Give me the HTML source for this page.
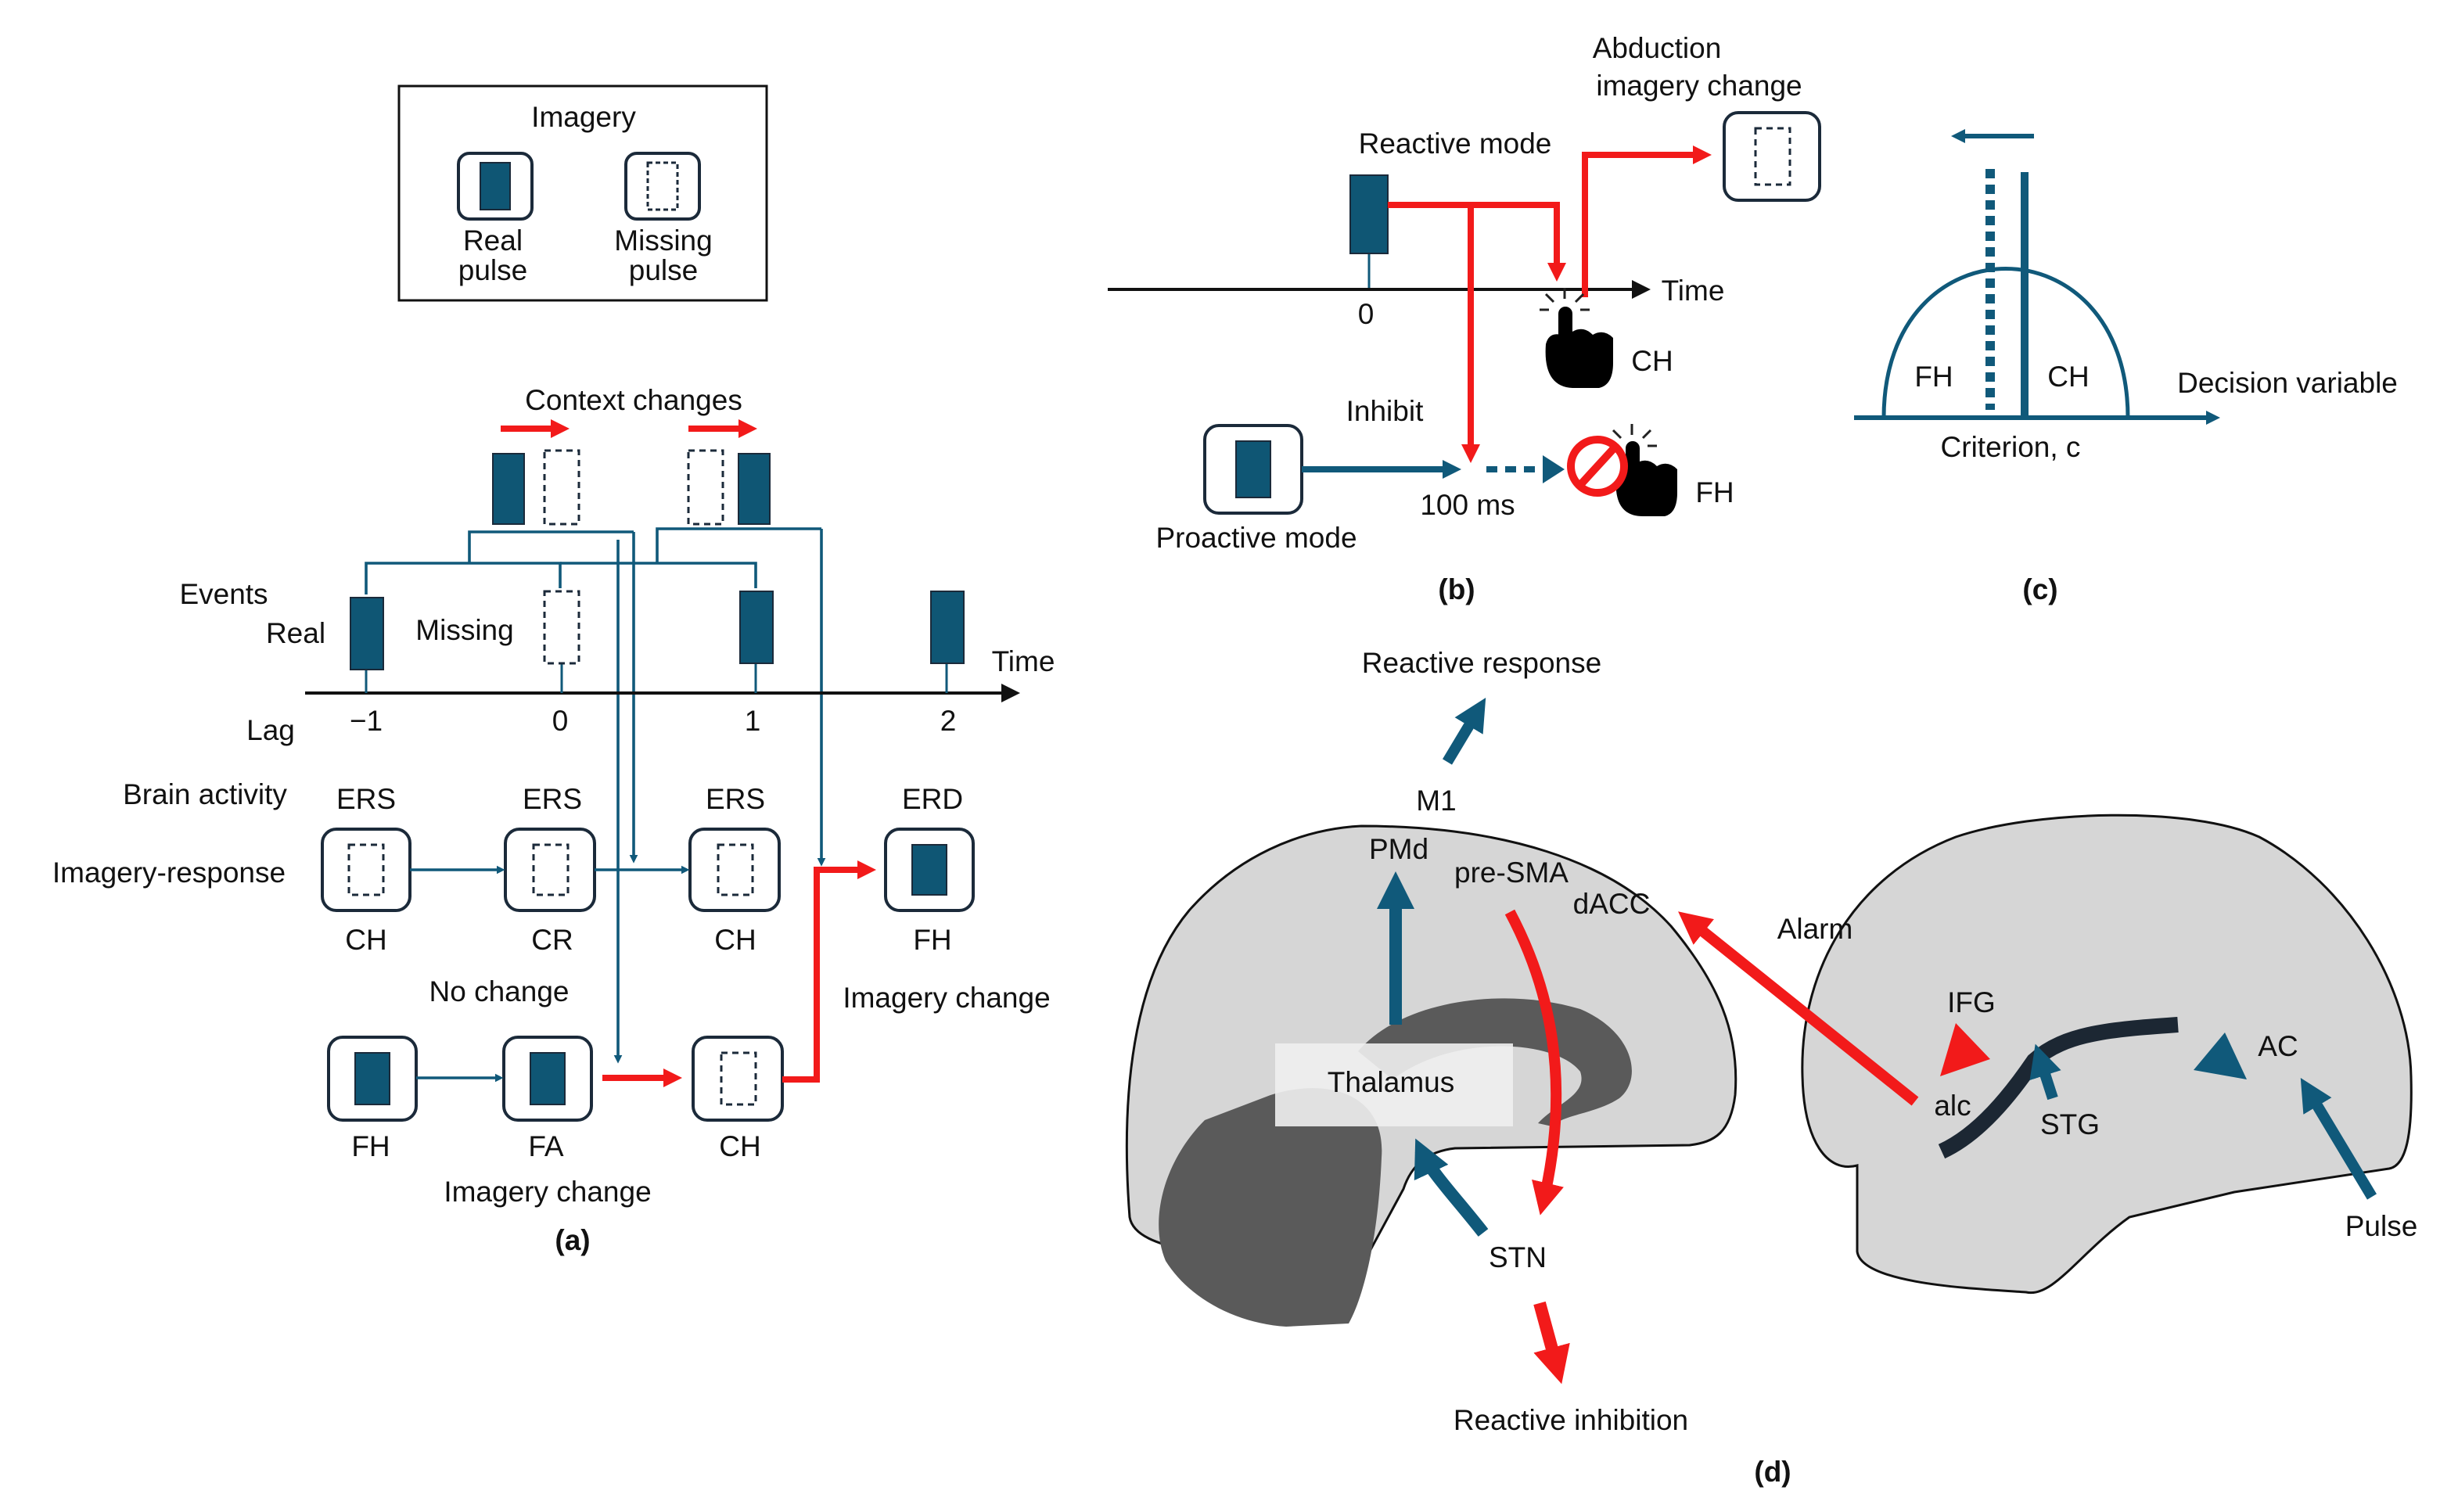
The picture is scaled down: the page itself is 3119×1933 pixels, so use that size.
<!DOCTYPE html>
<html><head><meta charset="utf-8"><style>
html,body{margin:0;padding:0;background:#fff;}
svg{display:block;}
text{font-family:"Liberation Sans",Arial,sans-serif;font-size:18.5px;fill:#111;text-anchor:middle;}
</style></head><body>
<svg width="3119" height="1933" viewBox="0 0 1559.5 966.5" xmlns="http://www.w3.org/2000/svg">
<defs>
<marker id="ab" markerWidth="6" markerHeight="6" refX="5" refY="3" orient="auto" markerUnits="strokeWidth"><path d="M0,0 L6,3 L0,6 z" fill="#111"/></marker>
<marker id="att" markerWidth="3" markerHeight="3" refX="2" refY="1.5" orient="auto" markerUnits="strokeWidth"><path d="M0,0 L3,1.5 L0,3 z" fill="#10597a"/></marker>
<marker id="arr" markerWidth="3" markerHeight="3" refX="2" refY="1.5" orient="auto" markerUnits="strokeWidth"><path d="M0,0 L3,1.5 L0,3 z" fill="#f21a1a"/></marker>
</defs>
<!-- Legend -->
<rect x="255" y="55" width="235" height="137" fill="none" stroke="#111" stroke-width="1.5"/>
<text x="373" y="81">Imagery</text>
<rect x="293" y="98" width="47" height="42" rx="7" fill="#fff" stroke="#1b2a3a" stroke-width="2"/>
<rect x="307" y="104" width="19" height="30" fill="#0f5674" stroke="#1b2a3a"/>
<rect x="400" y="98" width="47" height="42" rx="7" fill="#fff" stroke="#1b2a3a" stroke-width="2"/>
<rect x="414" y="104" width="19" height="30" fill="none" stroke="#1b2a3a" stroke-dasharray="3,2" stroke-width="1.5"/>
<text x="315" y="160">Real</text><text x="315" y="179">pulse</text>
<text x="424" y="160">Missing</text><text x="424" y="179">pulse</text>
<!-- (a) -->
<text x="405" y="262">Context changes</text>
<line x1="320" y1="274" x2="360" y2="274" stroke="#f21a1a" stroke-width="4" marker-end="url(#arr)"/>
<line x1="440" y1="274" x2="480" y2="274" stroke="#f21a1a" stroke-width="4" marker-end="url(#arr)"/>
<rect x="315" y="290" width="20" height="45" fill="#0f5674" stroke="#1b2a3a"/>
<rect x="348" y="288" width="22" height="47" fill="none" stroke="#1b2a3a" stroke-dasharray="4,3" stroke-width="1.5"/>
<rect x="440" y="288" width="22" height="47" fill="none" stroke="#1b2a3a" stroke-dasharray="4,3" stroke-width="1.5"/>
<rect x="472" y="290" width="20" height="45" fill="#0f5674" stroke="#1b2a3a"/>
<g stroke="#10597a" stroke-width="1.8" fill="none">
<path d="M300,360 V340 H405"/>
<path d="M234,380 V360 H358 V376"/>
<path d="M420,360 V338 H525"/>
<path d="M358,360 H483 V376"/>
<path d="M405,340 V550" marker-end="url(#att)"/>
<path d="M395,345 V678" marker-end="url(#att)"/>
<path d="M525,338 V552" marker-end="url(#att)"/>
</g>
<text x="143" y="386">Events</text>
<text x="189" y="411">Real</text>
<text x="297" y="409">Missing</text>
<line x1="195" y1="443" x2="650" y2="443" stroke="#111" stroke-width="2" marker-end="url(#ab)"/>
<text x="654" y="429">Time</text>
<g stroke="#10597a" stroke-width="1.5"><line x1="234" y1="428" x2="234" y2="443"/><line x1="359" y1="424" x2="359" y2="443"/><line x1="483" y1="424" x2="483" y2="443"/><line x1="605" y1="424" x2="605" y2="443"/></g>
<rect x="224" y="382" width="21" height="46" fill="#0f5674" stroke="#1b2a3a"/>
<rect x="348" y="378" width="22" height="46" fill="none" stroke="#1b2a3a" stroke-dasharray="4,3" stroke-width="1.5"/>
<rect x="473" y="378" width="21" height="46" fill="#0f5674" stroke="#1b2a3a"/>
<rect x="595" y="378" width="21" height="46" fill="#0f5674" stroke="#1b2a3a"/>
<text x="173" y="473">Lag</text><text x="234" y="467">−1</text><text x="358" y="467">0</text><text x="481" y="467">1</text><text x="606" y="467">2</text>
<text x="131" y="514">Brain activity</text>
<text x="234" y="517">ERS</text><text x="353" y="517">ERS</text><text x="470" y="517">ERS</text><text x="596" y="517">ERD</text>
<text x="108" y="564">Imagery-response</text>
<g fill="#fff" stroke="#1b2a3a" stroke-width="2">
<rect x="206" y="530" width="56" height="52" rx="9"/><rect x="323" y="530" width="57" height="52" rx="9"/><rect x="441" y="530" width="57" height="52" rx="9"/><rect x="566" y="530" width="56" height="52" rx="9"/>
<rect x="210" y="663" width="56" height="53" rx="9"/><rect x="322" y="663" width="56" height="53" rx="9"/><rect x="443" y="663" width="57" height="53" rx="9"/>
</g>
<g fill="none" stroke="#1b2a3a" stroke-dasharray="4,3" stroke-width="1.5">
<rect x="223" y="540" width="22" height="32"/><rect x="341" y="540" width="22" height="32"/><rect x="459" y="540" width="22" height="32"/><rect x="461" y="673" width="22" height="33"/>
</g>
<g fill="#0f5674" stroke="#1b2a3a"><rect x="583" y="540" width="22" height="32"/><rect x="227" y="673" width="22" height="33"/><rect x="339" y="673" width="22" height="33"/></g>
<line x1="262" y1="556" x2="321" y2="556" stroke="#10597a" stroke-width="1.8" marker-end="url(#att)"/>
<line x1="380" y1="556" x2="439" y2="556" stroke="#10597a" stroke-width="1.8" marker-end="url(#att)"/>
<line x1="266" y1="689" x2="320" y2="689" stroke="#10597a" stroke-width="1.8" marker-end="url(#att)"/>
<path d="M500,690 H522 V556 H556" fill="none" stroke="#f21a1a" stroke-width="4" marker-end="url(#arr)"/>
<line x1="385" y1="689" x2="432" y2="689" stroke="#f21a1a" stroke-width="4" marker-end="url(#arr)"/>
<text x="234" y="607">CH</text><text x="353" y="607">CR</text><text x="470" y="607">CH</text><text x="596" y="607">FH</text>
<text x="319" y="640">No change</text><text x="605" y="644">Imagery change</text>
<text x="237" y="739">FH</text><text x="349" y="739">FA</text><text x="473" y="739">CH</text>
<text x="350" y="768">Imagery change</text>
<text x="366" y="799" font-weight="bold">(a)</text>
<!-- (b) -->
<text x="1059" y="37">Abduction</text><text x="1086" y="61">imagery change</text>
<rect x="1102" y="72" width="61" height="56" rx="9" fill="#fff" stroke="#1b2a3a" stroke-width="2"/>
<rect x="1122" y="82" width="22" height="36" fill="none" stroke="#1b2a3a" stroke-dasharray="4,3" stroke-width="1.5"/>
<text x="930" y="98">Reactive mode</text>
<line x1="875" y1="162" x2="875" y2="185" stroke="#10597a" stroke-width="1.5"/>
<rect x="863" y="112" width="24" height="50" fill="#0f5674" stroke="#1b2a3a"/>
<line x1="708" y1="185" x2="1053" y2="185" stroke="#111" stroke-width="2" marker-end="url(#ab)"/>
<text x="1082" y="192">Time</text><text x="873" y="207">0</text>
<path d="M887,131 H995 V176" fill="none" stroke="#f21a1a" stroke-width="4" marker-end="url(#arr)"/>
<path d="M940,131 V292" fill="none" stroke="#f21a1a" stroke-width="4" marker-end="url(#arr)"/>
<path d="M1013,190 V99 H1090" fill="none" stroke="#f21a1a" stroke-width="4" marker-end="url(#arr)"/>
<!-- hands -->
<g fill="#000">
<rect x="996" y="196" width="9" height="32" rx="4.5"/>
<path d="M988,220 Q986,247 1005,248 L1022,248 Q1031,246 1031,232 L1031,216 Q1025,210 1018,214 Q1012,208 1005,212 L998,214 Q990,212 988,220 Z"/>
<rect x="1039" y="282" width="9" height="30" rx="4.5"/>
<path d="M1033,305 Q1031,330 1050,330 L1064,330 Q1072,328 1072,315 L1072,300 Q1066,294 1059,298 Q1053,292 1046,296 L1040,298 Q1033,297 1033,305 Z"/>
</g>
<g stroke="#222" stroke-width="1.5">
<line x1="1000" y1="191" x2="1000" y2="184"/><line x1="993" y1="193" x2="988" y2="188"/><line x1="1007" y1="193" x2="1012" y2="188"/><line x1="990" y1="198" x2="984" y2="198"/><line x1="1010" y1="198" x2="1016" y2="198"/>
<line x1="1043" y1="278" x2="1043" y2="271"/><line x1="1036" y1="280" x2="1031" y2="275"/><line x1="1050" y1="280" x2="1055" y2="275"/><line x1="1053" y1="285" x2="1059" y2="285"/>
</g>
<circle cx="1021" cy="298" r="17" fill="#fff" stroke="#f21a1a" stroke-width="5"/>
<line x1="1010" y1="310" x2="1032" y2="286" stroke="#f21a1a" stroke-width="5"/>
<text x="1056" y="237">CH</text>
<text x="885" y="269">Inhibit</text>
<rect x="770" y="272" width="62" height="56" rx="9" fill="#fff" stroke="#1b2a3a" stroke-width="2"/>
<rect x="790" y="282" width="22" height="36" fill="#0f5674" stroke="#1b2a3a"/>
<line x1="832" y1="300" x2="930" y2="300" stroke="#10597a" stroke-width="4" marker-end="url(#att)"/>
<line x1="950" y1="300" x2="988" y2="300" stroke="#10597a" stroke-width="4" stroke-dasharray="7,5"/>
<path d="M986,291 L1000,300 L986,309 Z" fill="#10597a"/>
<text x="1096" y="321">FH</text><text x="938" y="329">100 ms</text>
<text x="803" y="350">Proactive mode</text>
<text x="931" y="383" font-weight="bold">(b)</text>
<!-- (c) -->
<line x1="1300" y1="87" x2="1250" y2="87" stroke="#10597a" stroke-width="3" marker-end="url(#att)"/>
<path d="M1204,267 C1204,140 1360,140 1360,267" fill="none" stroke="#10597a" stroke-width="2.5"/>
<line x1="1272" y1="108" x2="1272" y2="262" stroke="#10597a" stroke-width="6" stroke-dasharray="6,4"/>
<line x1="1294" y1="110" x2="1294" y2="267" stroke="#10597a" stroke-width="5"/>
<line x1="1185" y1="267" x2="1416" y2="267" stroke="#10597a" stroke-width="3" marker-end="url(#att)"/>
<text x="1236" y="247">FH</text><text x="1322" y="247">CH</text>
<text x="1462" y="251">Decision variable</text><text x="1285" y="292">Criterion, c</text>
<text x="1304" y="383" font-weight="bold">(c)</text>
<!-- (d) -->
<text x="947" y="430">Reactive response</text>
<line x1="925" y1="487" x2="946" y2="452" stroke="#10597a" stroke-width="7" marker-end="url(#att)"/>
<!-- left brain -->
<path d="M722,778 C716,700 724,625 760,582 C790,548 830,530 870,528 C960,528 1030,550 1068,592 C1098,628 1112,660 1109,700 C1106,724 1096,730 1080,732 L930,734 C912,736 902,745 897,760 L851,845 L760,800 C740,795 724,790 722,778 Z" fill="#d6d6d6" stroke="#111" stroke-width="1.5"/>
<path d="M812,700 C850,688 886,700 883,740 C881,790 872,828 862,846 L822,848 C790,846 760,830 745,806 C734,780 744,742 770,716 Z" fill="#5a5a5a"/>
<path d="M868,672 C895,640 960,630 1010,645 C1045,660 1050,690 1035,702 C1020,712 1000,712 992,720 L983,718 C995,705 1015,700 1010,685 C995,665 930,660 890,690 Z" fill="#5a5a5a"/>
<rect x="815" y="667" width="152" height="53" fill="#efefef" opacity="0.9"/>
<text x="889" y="698">Thalamus</text>
<text x="918" y="518">M1</text><text x="894" y="549">PMd</text><text x="966" y="564">pre-SMA</text><text x="1030" y="584">dACC</text>
<line x1="892" y1="655" x2="892" y2="565" stroke="#10597a" stroke-width="8" marker-end="url(#att)"/>
<path d="M965,583 C990,630 1005,690 986,770" fill="none" stroke="#f21a1a" stroke-width="7" marker-end="url(#arr)"/>
<path d="M948,788 C930,765 915,750 908,735" fill="none" stroke="#10597a" stroke-width="8" marker-end="url(#att)"/>
<text x="970" y="810">STN</text>
<line x1="984" y1="833" x2="996" y2="877" stroke="#f21a1a" stroke-width="8" marker-end="url(#arr)"/>
<text x="1004" y="914">Reactive inhibition</text>
<text x="1133" y="947" font-weight="bold">(d)</text>
<!-- right brain -->
<path d="M1152,688 C1150,620 1185,560 1250,535 C1300,518 1400,515 1444,535 C1500,565 1540,630 1541,688 C1542,725 1538,745 1527,747 L1428,762 L1361,778 C1330,800 1312,830 1295,826 C1270,824 1190,822 1187,800 L1187,745 C1168,750 1153,730 1152,688 Z" fill="#d6d6d6" stroke="#111" stroke-width="1.5"/>
<path d="M1241,736 C1265,725 1285,700 1300,678 C1320,660 1350,658 1392,655" fill="none" stroke="#1c2733" stroke-width="10"/>
<line x1="1224" y1="704" x2="1078" y2="587" stroke="#f21a1a" stroke-width="7" marker-end="url(#arr)"/>
<text x="1160" y="600">Alarm</text>
<text x="1260" y="647">IFG</text>
<path d="M1250,654 L1272,677 L1240,688 Z" fill="#f21a1a"/>
<text x="1248" y="713">alc</text><text x="1323" y="725">STG</text>
<line x1="1312" y1="702" x2="1303" y2="674" stroke="#10597a" stroke-width="7" marker-end="url(#att)"/>
<path d="M1422,660 L1402,684 L1436,690 Z" fill="#10597a"/>
<text x="1456" y="675">AC</text>
<line x1="1516" y1="765" x2="1474" y2="695" stroke="#10597a" stroke-width="7" marker-end="url(#att)"/>
<text x="1522" y="790">Pulse</text>
</svg>
</body></html>
